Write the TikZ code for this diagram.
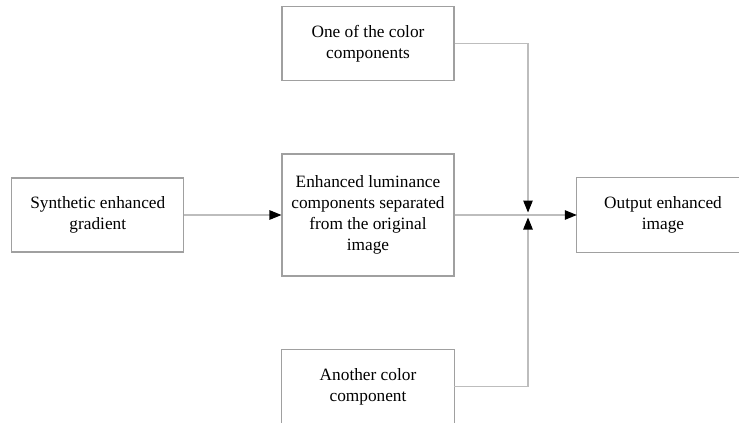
\documentclass[tikz,border=0pt]{standalone}
\usepackage{fontspec}
\setmainfont{Liberation Serif}
\usetikzlibrary{arrows.meta}
\definecolor{boxgray}{HTML}{A0A0A0}
\definecolor{linegray}{HTML}{BDBDBD}
\begin{document}
\begin{tikzpicture}[x=1pt,y=-1pt,
  boxtext/.style={minimum width=172pt, align=center, inner sep=0pt, font=\fontsize{17.3}{21}\selectfont},
  box/.style={boxtext, draw=boxgray, line width=1.1pt},
  edge/.style={draw=boxgray, line width=1.1pt},
  conn/.style={draw=linegray, line width=1.1pt},
  tip/.style={-{Triangle[length=12pt,width=9.5pt,color=black]}}]
\fill[white] (0,0) rectangle (739,423);
\useasboundingbox (0,0) rectangle (739,423);
\node[box, minimum height=74pt] (synth) at (97.8,215) {Synthetic enhanced\\gradient};
\node[box, minimum height=122pt] (lum) at (368,215) {Enhanced luminance\\components separated\\from the original\\image};
\node[box, minimum height=74pt] (one) at (368,43.5) {One of the color\\components};
\node[boxtext, minimum height=74pt] (another) at (368,386.5) {Another color\\component};
\node[boxtext, minimum height=74pt] (out) at (663,215) {Output enhanced\\image};
% open-sided boxes (cut by the picture edge)
\draw[edge] (another.south west) ++(0,20) -- (another.north west) -- (another.north east) -- ++(0,94);
\draw[edge] (out.north east) ++(20,0) -- (out.north west) -- (out.south west) -- ++(192,0);
\coordinate (jtop) at (528,43.5);
\coordinate (jbot) at (528,386.5);
\coordinate (tipA) at (528,212.5);
\coordinate (tipB) at (528,217.5);
\draw[conn, tip] (synth.east) -- (lum.west);
\draw[conn, tip] (lum.east) -- (out.west);
\draw[conn, tip] (one.east) -- (jtop) -- (tipA);
\draw[conn, tip] (another.east) -- (jbot) -- (tipB);
\end{tikzpicture}
\end{document}
